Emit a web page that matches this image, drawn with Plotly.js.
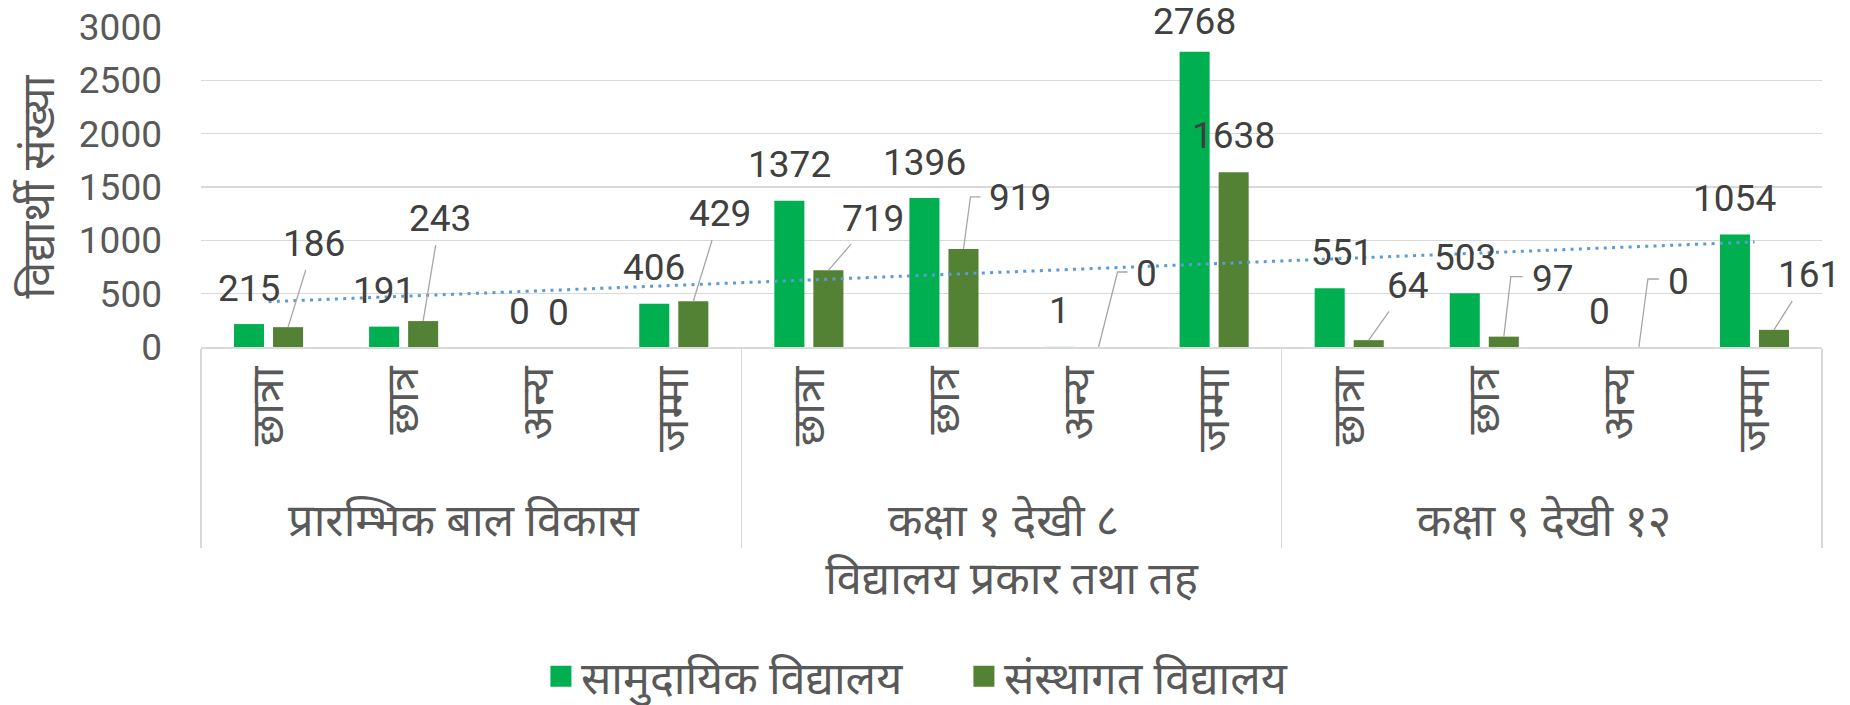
<!DOCTYPE html>
<html>
<head>
<meta charset="utf-8">
<script src="https://cdn.plot.ly/plotly-3.0.1.min.js"></script>
<style>html,body{margin:0;padding:0;background:#fff;}#chart{width:1850px;height:705px;}</style>
</head>
<body>
<div id="chart"></div>
<script>
// ---- data ----
var groups = ["प्रारम्भिक बाल विकास", "कक्षा १ देखी ८", "कक्षा ९ देखी १२"];
var subCats = ["छात्रा", "छात्र", "अन्य", "जम्मा"];
var seriesNames = ["सामुदायिक विद्यालय", "संस्थागत विद्यालय"];
var communityValues = [215, 191, 0, 406, 1372, 1396, 1, 2768, 551, 503, 0, 1054];
var institutionalValues = [186, 243, 0, 429, 719, 919, 0, 1638, 64, 97, 0, 161];
var yTitle = "विद्यार्थी संख्या";
var xTitle = "विद्यालय प्रकार तथा तह";

// ---- style constants ----
var FONT = "Roboto, 'Noto Sans', 'Noto Sans Devanagari', sans-serif";
var FS = 37;      // numerals
var FSD = 45;     // Devanagari texts
var GREEN = "#00B050", DARK = "#548235", TREND = "#5B9BD5", LEADER = "#A6A6A6";
var BARGAP = 0.422, BARGROUPGAP = 0.23;
var OFF = (1 - BARGAP) / 4; // bar centre offset in category units

// label offsets (px) for second series: [dx, dyUp, leaderType]  0 none, 1 straight, 2 elbow
var lab2 = [[26,84,1],[17,103,1],[0,35,0],[27,88,1],[45,52,1],[57,51,2],[48,74,2],[0,37,0],[39,55,1],[49,58,2],[40,66,2],[35,55,1]];
var lab1dx = [0,0,0,0,0,0,0,0,12,0,0,0];
var lab1dy = [36,36,36,36,36,36,36,30,36,36,36,36];
var elbow = {5:[7,52,17], 6:[19,75,29], 9:[7,60,19], 10:[9,68,20]};

var outer = [], inner = [];
groups.forEach(function(g){ subCats.forEach(function(s){ outer.push(g); inner.push(s); }); });

// linear trendline (least squares) of community series
var n = communityValues.length, sx=0, sy=0, sxy=0, sxx=0;
communityValues.forEach(function(v,i){ var x=i+1; sx+=x; sy+=v; sxy+=x*v; sxx+=x*x; });
var slope = (n*sxy - sx*sy)/(n*sxx - sx*sx), icpt = (sy - slope*sx)/n;
var trendY = communityValues.map(function(v,i){ return icpt + slope*(i+1); });

var traces = [
  {type:"bar", name:seriesNames[0], x:[outer, inner], y:communityValues, marker:{color:GREEN}, hoverinfo:"skip", showlegend:false},
  {type:"bar", name:seriesNames[1], x:[outer, inner], y:institutionalValues, marker:{color:DARK}, hoverinfo:"skip", showlegend:false},
  {type:"scatter", mode:"lines", x:[outer, inner], y:trendY, line:{color:TREND, width:3, dash:"3px,5.3px"}, showlegend:false, hoverinfo:"skip"},
  // legend entries (square swatches)
  {type:"scatter", mode:"markers", name:seriesNames[0], xaxis:"x2", yaxis:"y", x:[null], y:[null],
   marker:{symbol:"square", size:16, color:GREEN, line:{color:GREEN, width:5}}, hoverinfo:"skip"},
  {type:"scatter", mode:"markers", name:seriesNames[1], xaxis:"x2", yaxis:"y", x:[null], y:[null],
   marker:{symbol:"square", size:16, color:DARK, line:{color:DARK, width:5}}, hoverinfo:"skip"}
];

var ann = [], shapes = [];
communityValues.forEach(function(v,i){
  ann.push({xref:"x2", yref:"y", x:i-OFF, y:v, text:String(v), showarrow:false, yanchor:"middle", xanchor:"center",
            xshift:lab1dx[i], yshift:lab1dy[i], font:{family:FONT, size:FS, color:"#404040"}});
});
institutionalValues.forEach(function(v,i){
  var L = lab2[i];
  var a = {xref:"x2", yref:"y", x:i+OFF, y:v, text:String(v), font:{family:FONT, size:FS, color:"#404040"}};
  if(L[2]===1){
    a.showarrow = true; a.arrowhead = 0; a.arrowwidth = 1.3; a.arrowcolor = LEADER;
    a.ax = L[0]; a.ay = -L[1]; a.axref = "pixel"; a.ayref = "pixel"; a.startstandoff = 4;
  } else {
    a.showarrow = false; a.xshift = L[0]; a.yshift = L[1]; a.xanchor = "center"; a.yanchor = "middle";
  }
  ann.push(a);
  if(L[2]===2){
    var e = elbow[i];
    shapes.push({type:"path", xref:"x2", yref:"y", xsizemode:"pixel", ysizemode:"pixel", xanchor:i+OFF, yanchor:v,
      path:"M0,0 L"+e[0]+","+e[1]+" L"+e[2]+","+e[1], line:{color:LEADER, width:1.3}});
  }
});

var layout = {
  width:1850, height:705,
  margin:{l:201, r:28, t:27, b:358, pad:0, autoexpand:false},
  paper_bgcolor:"#fff", plot_bgcolor:"#fff",
  font:{family:FONT, size:FS, color:"#595959"},
  barmode:"group", bargap:BARGAP, bargroupgap:BARGROUPGAP,
  showlegend:true,
  legend:{orientation:"h", x:0.2097, xanchor:"left", y:-1.03, yanchor:"middle", entrywidth:378, entrywidthmode:"pixels",
          font:{family:FONT, size:FSD, color:"#595959"}, itemwidth:30, traceorder:"normal"},
  xaxis:{type:"multicategory", showline:true, linecolor:"#D9D9D9", linewidth:1.5,
         showdividers:true, dividercolor:"#D9D9D9", dividerwidth:1.5,
         tickangle:-90, ticks:"", tickfont:{family:FONT, size:FSD, color:"#595959"},
         title:{text:xTitle, font:{family:FONT, size:FSD, color:"#595959"}, standoff:16}},
  xaxis2:{overlaying:"x", range:[-0.5, 11.5], visible:false, anchor:"y"},
  yaxis:{range:[0,3000], dtick:500, gridcolor:"#D9D9D9", gridwidth:1.5, zeroline:false, showline:false,
         ticks:"", ticklabelstandoff:38, tickfont:{family:FONT, size:FS, color:"#595959"},
         title:{text:yTitle, font:{family:FONT, size:FSD, color:"#595959"}, standoff:10}},
  annotations:ann, shapes:shapes
};

Plotly.newPlot("chart", traces, layout, {staticPlot:true});
</script>
</body>
</html>
